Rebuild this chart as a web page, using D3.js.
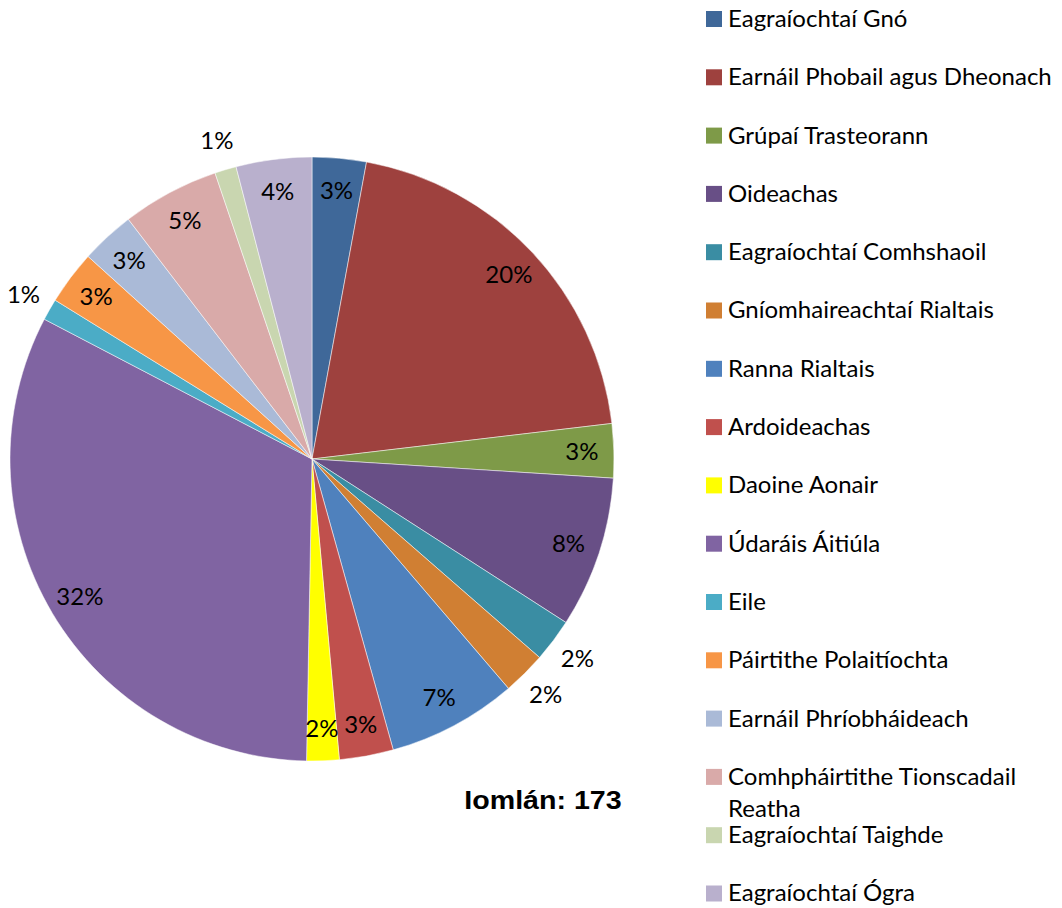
<!DOCTYPE html>
<html>
<head>
<meta charset="utf-8">
<script src="https://cdn.jsdelivr.net/npm/d3@7"></script>
<style>
  body { margin: 0; background: #fff; }
  svg { display: block; }
  text { font-family: Lato, "Open Sans", sans-serif; fill: #000; }
</style>
</head>
<body>
<svg id="chart" width="1062" height="908"></svg>
<script>
const categories = [
  "Eagraíochtaí Gnó",
  "Earnáil Phobail agus Dheonach",
  "Grúpaí Trasteorann",
  "Oideachas",
  "Eagraíochtaí Comhshaoil",
  "Gníomhaireachtaí Rialtais",
  "Ranna Rialtais",
  "Ardoideachas",
  "Daoine Aonair",
  "Údaráis Áitiúla",
  "Eile",
  "Páirtithe Polaitíochta",
  "Earnáil Phríobháideach",
  "Comhpháirtithe Tionscadail Reatha",
  "Eagraíochtaí Taighde",
  "Eagraíochtaí Ógra"
]
const counts = [5, 35, 5, 14, 4, 4, 12, 5, 3, 56, 2, 5, 5, 9, 2, 7]
const colors = [
  "#3f6899", "#9e413e", "#7e9a48", "#684f86", "#3a8da3", "#d07f33",
  "#4f81bd", "#c0504d", "#ffff00", "#8064a2", "#4bacc6", "#f79646",
  "#aabad7", "#d9aaa9", "#c9d6b0", "#b9b0cd"
]
// labels Excel pushed outside the pie
const outsideLabels = ["Eagraíochtaí Comhshaoil", "Gníomhaireachtaí Rialtais", "Eile", "Eagraíochtaí Taighde"]
const totalLabel = "Iomlán: 173"

const cx = 312, cy = 459, radius = 302

const svg = d3.select('#chart')
const total = d3.sum(counts)

const color = d3.scaleOrdinal().domain(categories).range(colors)

const pie = d3.pie().sort(null).value(d => d.count)
const arc = d3.arc().innerRadius(0).outerRadius(radius)
const inLabel = d3.arc().innerRadius(270).outerRadius(270)
const outLabel = d3.arc().innerRadius(332).outerRadius(332)

const slices = categories.map((c, i) => ({ name: c, count: counts[i] }))
const arcs = pie(slices)

const g = svg.append('g').attr('transform', `translate(${cx},${cy})`)

g.selectAll('path.slice')
  .data(arcs)
  .enter().append('path')
  .attr('class', 'slice')
  .attr('d', arc)
  .attr('fill', d => color(d.data.name))
  .attr('stroke', '#fff')
  .attr('stroke-width', 0.5)

g.selectAll('text.pct')
  .data(arcs)
  .enter().append('text')
  .attr('class', 'pct')
  .attr('transform', d => {
    const a = outsideLabels.includes(d.data.name) ? outLabel : inLabel
    const [x, y] = a.centroid(d)
    return `translate(${x},${y})`
  })
  .attr('text-anchor', 'middle')
  .attr('dy', '0.35em')
  .style('font-size', '24px')
  .text(d => Math.round(d.data.count / total * 100) + '%')

// legend
const legend = svg.append('g').attr('transform', 'translate(706,0)')
const rowH = 58.3

const item = legend.selectAll('g.item')
  .data(categories)
  .enter().append('g')
  .attr('class', 'item')
  .attr('transform', (d, i) => `translate(0,${19 + i * rowH})`)

item.append('rect')
  .attr('x', 0).attr('y', -8)
  .attr('width', 16).attr('height', 16)
  .attr('fill', d => color(d))

item.append('text')
  .attr('x', 22)
  .attr('dy', '0.33em')
  .style('font-size', '24px')
  .each(function(d) {
    const t = d3.select(this)
    if (d === "Comhpháirtithe Tionscadail Reatha") {
      t.append('tspan').attr('x', 22).text("Comhpháirtithe Tionscadail")
      t.append('tspan').attr('x', 22).attr('dy', 32).text("Reatha")
    } else {
      t.text(d)
    }
  })

svg.append('text')
  .attr('transform', 'translate(543,800) scale(1.1,1)')
  .attr('text-anchor', 'middle')
  .attr('dy', '0.35em')
  .style('font-family', 'Liberation Sans, Arial, sans-serif')
  .style('font-weight', 'bold')
  .style('font-size', '26px')
  .text(totalLabel)
</script>
</body>
</html>
